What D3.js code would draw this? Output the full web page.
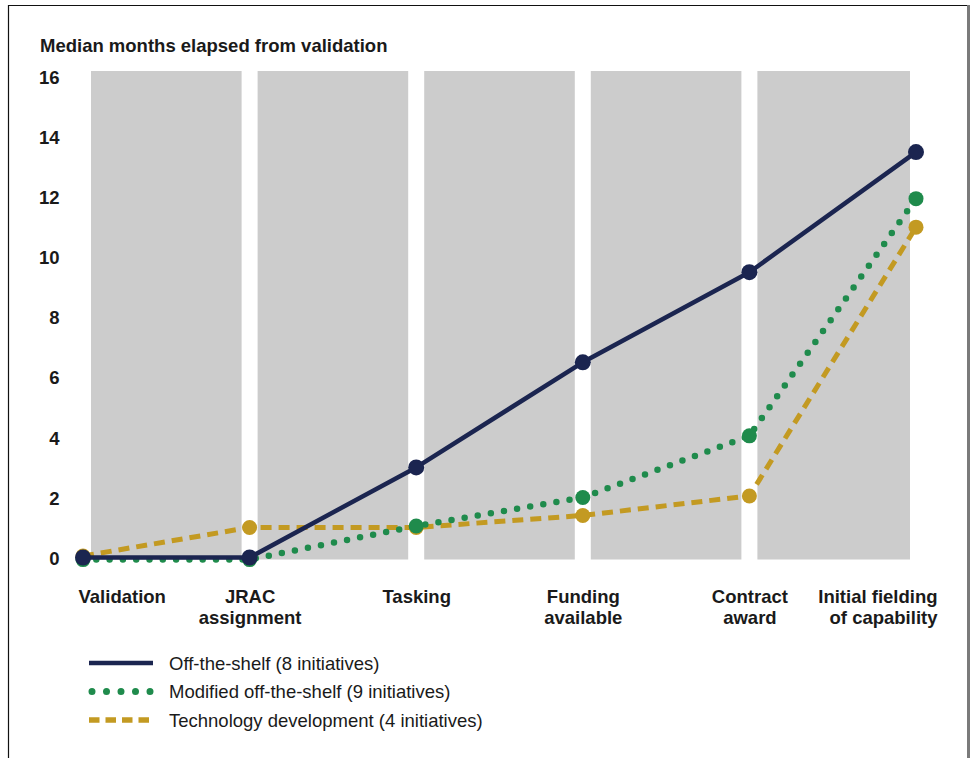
<!DOCTYPE html>
<html>
<head>
<meta charset="utf-8">
<script src="https://cdn.jsdelivr.net/npm/d3@7"></script>
<style>
  html, body { margin: 0; padding: 0; background: #fff; }
  svg { display: block; font-family: "Liberation Sans", Arial, sans-serif; }
</style>
</head>
<body>
<svg id="chart" width="975" height="758"></svg>
<script>
// ---- data ----
const stages = ["Validation", "JRAC assignment", "Tasking", "Funding available", "Contract award", "Initial fielding of capability"];
const stageLabels = [["Validation"], ["JRAC", "assignment"], ["Tasking"], ["Funding", "available"], ["Contract", "award"], ["Initial fielding", "of capability"]];
const offTheShelf = [0, 0, 3, 6.5, 9.5, 13.5];
const modifiedOffTheShelf = [-0.07, -0.07, 1.05, 2, 4.05, 11.95];
const technologyDevelopment = [0.05, 1, 1, 1.4, 2.05, 11];
const yTicks = [0, 2, 4, 6, 8, 10, 12, 14, 16];
const seriesNames = ["Off-the-shelf (8 initiatives)", "Modified off-the-shelf (9 initiatives)", "Technology development (4 initiatives)"];
const yTitle = "Median months elapsed from validation";

// ---- styles ----
const textColor = "#1a1a1a";
const fs = 18.5;
const navy = { name: seriesNames[0], values: offTheShelf, color: "#1b2550", width: 4.5, dash: null, cap: "round", r: 8 };
const green = { name: seriesNames[1], values: modifiedOffTheShelf, color: "#1f8b4c", width: 6.5, dash: "0,13.3", cap: "round", r: 7.5 };
const gold = { name: seriesNames[2], values: technologyDevelopment, color: "#c39a22", width: 5, dash: "11,7", cap: "butt", r: 7.5 };
const drawOrder = [gold, green, navy];
const legendOrder = [navy, green, gold];

const svg = d3.select("#chart");

// frame
svg.append("line").attr("x1", 8.5).attr("x2", 8.5).attr("y1", 5).attr("y2", 758).attr("stroke", "#111").attr("stroke-width", 1.2);
svg.append("line").attr("x1", 8).attr("x2", 970).attr("y1", 5.5).attr("y2", 5.5).attr("stroke", "#111").attr("stroke-width", 1.2);
svg.append("line").attr("x1", 968.5).attr("x2", 968.5).attr("y1", 5).attr("y2", 758).attr("stroke", "#7a7a7a").attr("stroke-width", 3);

const x = d3.scalePoint().domain(stages).range([83, 916]);
const y = d3.scaleLinear().domain([0, 16]).range([557.5, 77]);

// gray bands between stages
const bandGap = 8;
const bands = d3.pairs(stages);
svg.append("g").selectAll("rect").data(bands).join("rect")
  .attr("x", d => x(d[0]) + bandGap)
  .attr("width", (d, i) => x(d[1]) - x(d[0]) - bandGap - (i === bands.length - 1 ? 6 : bandGap))
  .attr("y", y(16) - 6)
  .attr("height", y(0) - y(16) + 8)
  .attr("fill", "#cccccc");

// y axis labels
const yAxis = d3.axisLeft(y).tickValues(yTicks).tickSize(0).tickPadding(0).tickFormat(d3.format("d"));
const gy = svg.append("g").attr("transform", "translate(59.5,0)").call(yAxis);
gy.select(".domain").remove();
gy.selectAll("text").attr("font-size", fs).attr("font-weight", "bold").attr("fill", textColor)
  .attr("font-family", "'Liberation Sans', Arial, sans-serif").attr("dy", "0.36em");

// y title
svg.append("text").attr("x", 40).attr("y", 52).text(yTitle)
  .attr("font-size", fs).attr("font-weight", "bold").attr("fill", textColor);

// x axis labels
const xAxis = d3.axisBottom(x).tickSize(0).tickFormat(() => "");
const gx = svg.append("g").attr("transform", `translate(0,${y(0)})`).call(xAxis);
gx.select(".domain").remove();
const nStages = stages.length;
gx.selectAll(".tick").each(function(d, i) {
  const anchor = i === 0 ? "start" : (i === nStages - 1 ? "end" : "middle");
  const dx = i === 0 ? -5 : (i === nStages - 1 ? 21 : 0);
  const t = d3.select(this).append("text")
    .attr("text-anchor", anchor)
    .attr("font-size", fs).attr("font-weight", "bold").attr("fill", textColor)
    .attr("font-family", "'Liberation Sans', Arial, sans-serif");
  stageLabels[i].forEach((line, j) => {
    t.append("tspan").attr("x", dx).attr("y", 45.5 + j * 21).text(line);
  });
});

// lines and markers
const line = d3.line().x((d, i) => x(stages[i])).y(d => y(d));
drawOrder.forEach(s => {
  const g = svg.append("g");
  g.append("path").datum(s.values)
    .attr("d", line)
    .attr("fill", "none")
    .attr("stroke", s.color)
    .attr("stroke-width", s.width)
    .attr("stroke-linecap", s.cap)
    .attr("stroke-linejoin", "round")
    .attr("stroke-dasharray", s.dash);
  g.selectAll("circle").data(s.values).join("circle")
    .attr("cx", (d, i) => x(stages[i]))
    .attr("cy", d => y(d))
    .attr("r", s.r)
    .attr("fill", s.color);
});

// legend
const legend = svg.append("g");
legendOrder.forEach((s, i) => {
  const cy = 663 + i * 28.5;
  const l = legend.append("line")
    .attr("x1", s.cap === "round" && s.dash ? 92 : 89)
    .attr("x2", 153).attr("y1", cy).attr("y2", cy)
    .attr("stroke", s.color)
    .attr("stroke-width", s.dash ? (s.cap === "round" ? 7 : 5.5) : 4.5)
    .attr("stroke-linecap", s.dash ? s.cap : "butt");
  if (s.dash) l.attr("stroke-dasharray", s.cap === "round" ? "0,14.5" : "10.5,6");
  legend.append("text").attr("x", 169).attr("y", cy + 6.5).text(s.name)
    .attr("font-size", fs).attr("fill", textColor);
});
</script>
</body>
</html>
